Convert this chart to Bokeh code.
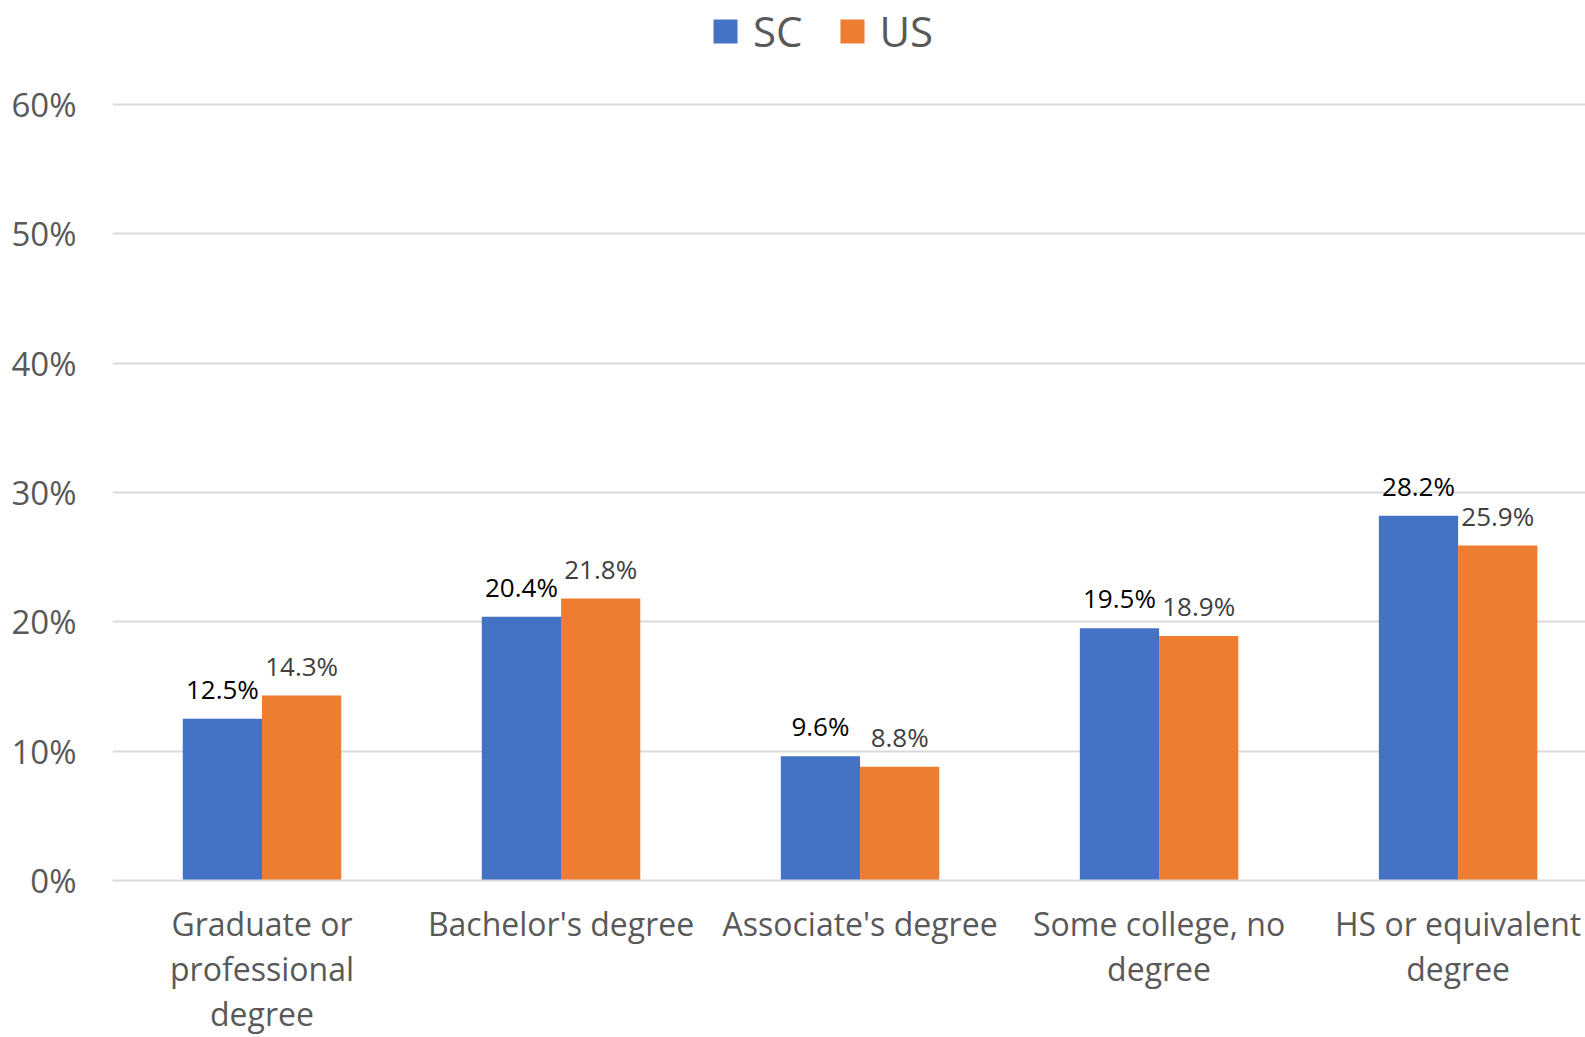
import numpy as np
from bokeh.plotting import figure
from bokeh.models import ColumnDataSource, FixedTicker, PrintfTickFormatter, Legend, LegendItem
from bokeh.core.properties import value
from bokeh.embed import file_html
from bokeh.resources import INLINE

categories = ["Graduate or\nprofessional\ndegree", "Bachelor's degree", "Associate's degree",
              "Some college, no\ndegree", "HS or equivalent\ndegree"]
sc_values = [12.5, 20.4, 9.6, 19.5, 28.2]
us_values = [14.3, 21.8, 8.8, 18.9, 25.9]
y_ticks = [0, 10, 20, 30, 40, 50, 60]

FONT = "Open Sans"
bw = 0.265
xpos = np.arange(len(categories))
src = ColumnDataSource(dict(
    x_sc=xpos - bw / 2,
    x_us=xpos + bw / 2,
    sc=sc_values,
    us=us_values,
    sc_lbl=[f"{v:.1f}%" for v in sc_values],
    us_lbl=[f"{v:.1f}%" for v in us_values],
))

# frame: x 112..1585, y 0..880 ; 0% at 880, 60% at 104
p = figure(x_range=(-0.5, 4.426), y_range=(0, 68.04), width=1585, height=1037,
           output_backend="svg", toolbar_location=None,
           min_border_left=112, min_border_right=0, min_border_top=0, min_border_bottom=157)
p.outline_line_color = None

r_sc = p.vbar(x="x_sc", top="sc", width=bw, source=src, fill_color="#4472C4", line_color=None)
r_us = p.vbar(x="x_us", top="us", width=bw, source=src, fill_color="#ED7D31", line_color=None)

p.text(x="x_sc", y="sc", text="sc_lbl", source=src,
       text_align="center", text_baseline="bottom", y_offset=-12,
       text_font=value(FONT), text_font_size="26px", text_color="#000000")
p.text(x="x_us", y="us", text="us_lbl", source=src,
       text_align="center", text_baseline="bottom", y_offset=-12,
       text_font=value(FONT), text_font_size="26px", text_color="#404040")

p.yaxis.ticker = FixedTicker(ticks=y_ticks)
p.yaxis.formatter = PrintfTickFormatter(format="%d%%")
p.yaxis.axis_line_color = None
p.yaxis.major_tick_line_color = None
p.yaxis.minor_tick_line_color = None
p.yaxis.major_label_standoff = 30
p.yaxis.major_label_text_font = FONT
p.yaxis.major_label_text_font_size = "33px"
p.yaxis.major_label_text_color = "#595959"

p.xaxis.ticker = FixedTicker(ticks=list(xpos))
p.xaxis.major_label_overrides = {int(i): c for i, c in zip(xpos, categories)}
p.xaxis.axis_line_color = "#d9d9d9"
p.xaxis.axis_line_width = 2
p.xaxis.major_tick_line_color = None
p.xaxis.minor_tick_line_color = None
p.xaxis.major_label_standoff = 15
p.xaxis.major_label_text_font = FONT
p.xaxis.major_label_text_font_size = "32px"
p.xaxis.major_label_text_color = "#595959"
p.xaxis.major_label_text_line_height = 1.05

p.xgrid.grid_line_color = None
p.ygrid.grid_line_color = "#d9d9d9"
p.ygrid.grid_line_width = 2
p.ygrid.ticker = FixedTicker(ticks=y_ticks)

legend = Legend(items=[LegendItem(label="SC", renderers=[r_sc]),
                       LegendItem(label="US", renderers=[r_us])],
                orientation="horizontal", location=(598, 821),
                label_text_font=FONT, label_text_font_size="42px",
                label_text_color="#595959", glyph_width=30, glyph_height=30,
                spacing=34, label_standoff=13, border_line_color=None,
                background_fill_alpha=0, padding=0, margin=0)
p.add_layout(legend, "center")

open("out.html", "w").write(file_html(p, INLINE))
